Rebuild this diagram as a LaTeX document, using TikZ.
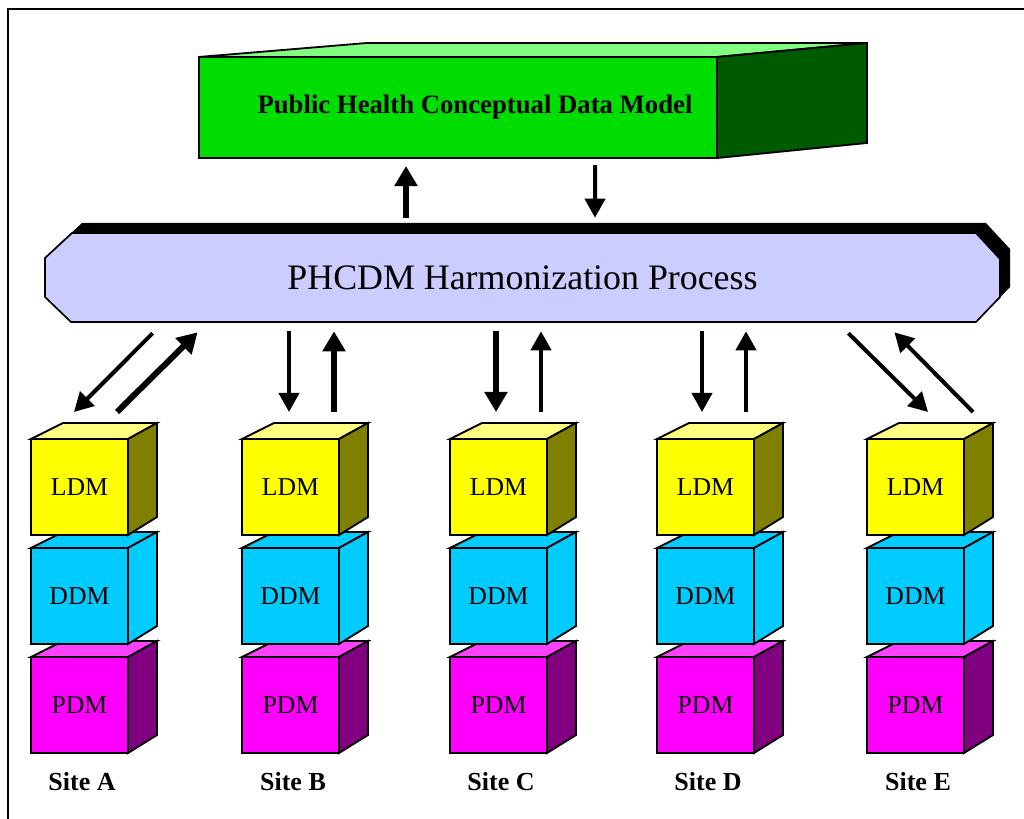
\documentclass[tikz,border=0pt]{standalone}
\usepackage{fontspec}
\setmainfont{Liberation Serif}
\usetikzlibrary{arrows.meta,calc}

\definecolor{cdmfront}{HTML}{00DD00}
\definecolor{cdmtop}{HTML}{80FF80}
\definecolor{cdmside}{HTML}{005A00}
\definecolor{harmfill}{HTML}{CCCCFF}
\definecolor{ldmfront}{HTML}{FFFF00}
\definecolor{ldmtop}{HTML}{FFFF80}
\definecolor{ldmside}{HTML}{808000}
\definecolor{ddmfront}{HTML}{00CCFF}
\definecolor{ddmtop}{HTML}{00CCFF}
\definecolor{ddmside}{HTML}{00CCFF}
\definecolor{pdmfront}{HTML}{FF00FF}
\definecolor{pdmtop}{HTML}{FF40FF}
\definecolor{pdmside}{HTML}{800080}

\begin{document}
\begin{tikzpicture}[x=0.025cm, y=-0.025cm,
        cube/.style={draw, line width=1.3pt, outer sep=0pt, inner sep=0pt,
            minimum width=2.425cm, minimum height=2.4cm,
            font=\fontsize{18.3}{20}\selectfont},
        face/.style={draw, line width=1.3pt},
        site/.style={font=\fontsize{18.5}{20}\selectfont\bfseries},
        slim/.style={line width=0.1cm, -{Triangle[length=0.475cm,width=0.5cm]}},
        fat/.style={line width=0.15cm, -{Triangle[length=0.5cm,width=0.55cm]}}]

        \useasboundingbox (0,0) rectangle (1024,819);

        % Frame
        \draw[line width=1.4pt] (8,819) -- (8,9) -- (1024,9);

        % Draw the conceptual model box
        \node[draw, line width=1.3pt, fill=cdmfront, outer sep=0pt,
            minimum width=12.95cm, minimum height=2.525cm,
            font=\fontsize{19}{22}\selectfont\bfseries] (cdm) at (458,107.5)
            {\hspace*{0.85cm}Public Health Conceptual Data Model};
        \filldraw[face, fill=cdmtop] (cdm.north west) -- (367,43) -- (867,43) -- (cdm.north east) -- cycle;
        \filldraw[face, fill=cdmside] (cdm.north east) -- (867,43) -- (867,143) -- (cdm.south east) -- cycle;

        % Draw the harmonization banner
        \fill[shift={(10,-10)}] (72,233) -- (976,233) -- (1000,259) -- (1000,297)
            -- (976,322) -- (71,322) -- (45,297) -- (45,258) -- cycle;
        \filldraw[fill=harmfill, line width=1.2pt] (72,233) -- (976,233) -- (1000,259) -- (1000,297)
            -- (976,322) -- (71,322) -- (45,297) -- (45,258) -- cycle;
        \node[minimum width=23.875cm, minimum height=2.225cm,
            font=\fontsize{25.5}{28}\selectfont] (harm) at (522.5,277.5) {PHCDM Harmonization Process};

        % Arrows to the conceptual model
        \draw[fat] ($(harm.north)+(-116.5,-15)$) -- ($(cdm.south)+(-52,8)$);
        \draw[slim] ($(cdm.south)+(137,7)$) -- ($(harm.north)+(72.5,-15)$);

        % Draw the sites
        \foreach \site/\xl in {A/31, B/242, C/450, D/657, E/867}{
            \foreach \lay/\yt/\txt in {pdm/657/PDM, ddm/548/DDM, ldm/439/LDM}{
                \node[cube, fill=\lay front] (\site-\lay) at (\xl+48.5,\yt+48) {\txt};
                \filldraw[face, fill=\lay top] (\site-\lay.north west) -- ++(32,-16)
                    -- ($(\site-\lay.north east)+(29,-16)$) -- (\site-\lay.north east) -- cycle;
                \filldraw[face, fill=\lay side] (\site-\lay.north east) -- ++(29,-16)
                    -- ($(\site-\lay.south east)+(29,-18)$) -- (\site-\lay.south east) -- cycle;
            }
            \node[site] (\site-name) at (\xl+51,782) {Site \site};
        }

        % Arrows between the banner and the sites
        \draw[slim] ($(harm.south west)+(108,11)$) -- ($(A-ldm.north)+(-5.5,-27)$);
        \draw[fat] ($(A-ldm.north)+(37.5,-27)$) -- ($(harm.south west)+(153,10)$);

        \draw[slim] ($(harm.south -| B-ldm.north)+(-1.5,9)$) -- ($(B-ldm.north)+(-1.5,-27)$);
        \draw[fat] ($(B-ldm.north east)+(-5,-27)$) -- ($(harm.south -| B-ldm.north east)+(-5,9)$);

        \draw[fat] ($(harm.south -| C-ldm.north)+(-2.5,9)$) -- ($(C-ldm.north)+(-2.5,-27)$);
        \draw[slim] ($(C-ldm.north east)+(-6,-27)$) -- ($(harm.south -| C-ldm.north east)+(-6,9)$);

        \draw[slim] ($(harm.south -| D-ldm.north)+(-3.5,9)$) -- ($(D-ldm.north)+(-3.5,-27)$);
        \draw[slim] ($(D-ldm.north east)+(-8,-27)$) -- ($(harm.south -| D-ldm.north east)+(-8,9)$);

        \draw[slim] ($(harm.south east)+(-152,11)$) -- ($(E-ldm.north)+(12.5,-27)$);
        \draw[slim] ($(E-ldm.north east)+(9,-27)$) -- ($(harm.south east)+(-106,10)$);

    \end{tikzpicture}
\end{document}
